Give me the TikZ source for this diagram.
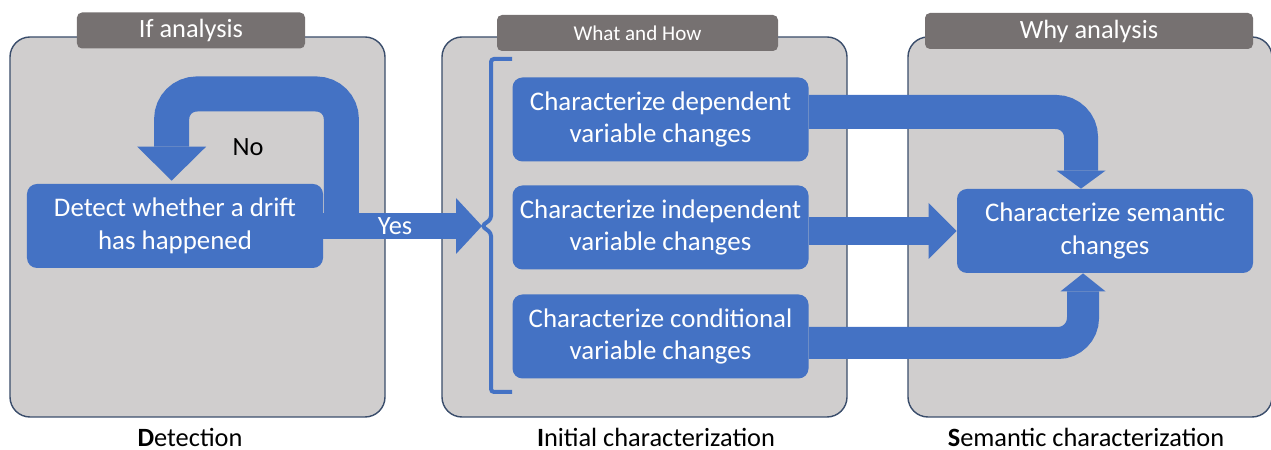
\documentclass[tikz,border=0pt]{standalone}
\usepackage{fontspec}
\setmainfont{Carlito}
\usetikzlibrary{arrows.meta,calc}

\definecolor{flowblue}{HTML}{4472C4}
\definecolor{panelgray}{HTML}{D0CECE}
\definecolor{paneledge}{HTML}{3A4D6B}
\definecolor{headgray}{HTML}{767171}

\tikzset{
  panel/.style={draw=paneledge, line width=0.8pt, fill=panelgray, rounded corners=4mm, minimum height=7.6cm},
  header/.style={fill=headgray, text=white, rounded corners=1mm, minimum height=7.2mm, font=\fontsize{15}{18}\selectfont},
  stepbox/.style={fill=flowblue, text=white, rounded corners=2mm, minimum width=5.92cm, minimum height=1.68cm, align=center, font=\fontsize{15.3}{18.4}\selectfont},
  caption/.style={font=\fontsize{15}{18}\selectfont},
  flow/.style={draw=flowblue, line width=#1},
  flowtip/.style 2 args={-{Triangle[width=#1, length=#2, line width=0pt]}},
}

\begin{document}
\begin{tikzpicture}[x=0.2mm, y=-0.2mm]
	\useasboundingbox (0,0) rectangle (1271,450);
	% Panels and their headers:
	\node[panel, minimum width=7.5cm] (detpanel) at (197.5,227){};
	\node[panel, minimum width=8.1cm] (initpanel) at (644.5,227){};
	\node[panel, minimum width=7.28cm] (sempanel) at (1090,227){};
	\node[header, minimum width=4.56cm] (ifhead) at (191,30.5){If analysis};
	\node[header, minimum width=5.62cm, font=\fontsize{12}{14}\selectfont] (whathead) at (637.5,33){What and How};
	\node[header, minimum width=6.56cm] (whyhead) at (1089,31){Why analysis};
	\node[caption] (detcap) at (190,437){\textbf{D}etection};
	\node[caption] (initcap) at (656,437){\textbf{I}nitial characterization};
	\node[caption] (semcap) at (1086,437){\textbf{S}emantic characterization};
	% Steps:
	\node[stepbox] (detect) at (175,226){Detect whether a drift\\has happened};
	\node[stepbox] (boxA) at (660.5,119.5){Characterize dependent\\variable changes};
	\node[stepbox] (boxB) at (660.5,227.5){Characterize independent\\variable changes};
	\node[stepbox] (boxC) at (660.5,336.5){Characterize conditional\\variable changes};
	\node[stepbox] (sem) at (1105,231){Characterize semantic\\changes};
	% Bracket round the three characterizations:
	\coordinate (brk) at (482,226);
	\draw[flowblue, line width=0.8mm, rounded corners=0.6mm] (512,59) -- (491,59) -- (491,219) -- (brk) -- (491,233) -- (491,392) -- (512,392);
	% Block arrows:
	\coordinate (fork) at ($(detect.east)+(18,0)$);
	\draw[flow=7mm, flowtip={13.8mm}{6.8mm}, rounded corners=5mm] (fork) -- ++(0,-132) -| ($(detect.north west)+(145,-3)$);
	\draw[flow=5.2mm, flowtip={11.2mm}{5.2mm}] (detect.east) -- (brk);
	\node[caption] (nolbl) at (248,147){No};
	\node[caption, text=white] (yeslbl) at (395,226){Yes};
	\draw[flow=6.8mm, flowtip={9.8mm}{3.6mm}, rounded corners=5mm] ([yshift=1.5mm]boxA.east) -| ($(sem.north)+(-24,0)$);
	\draw[flow=5.6mm, flowtip={11.2mm}{5.6mm}] (boxB.east |- sem.west) -- (sem.west);
	\draw[flow=6.4mm, flowtip={9mm}{3.6mm}, rounded corners=5mm] ([yshift=-1.3mm]boxC.east) -| ($(sem.south)+(-22,0)$);
\end{tikzpicture}
\end{document}
